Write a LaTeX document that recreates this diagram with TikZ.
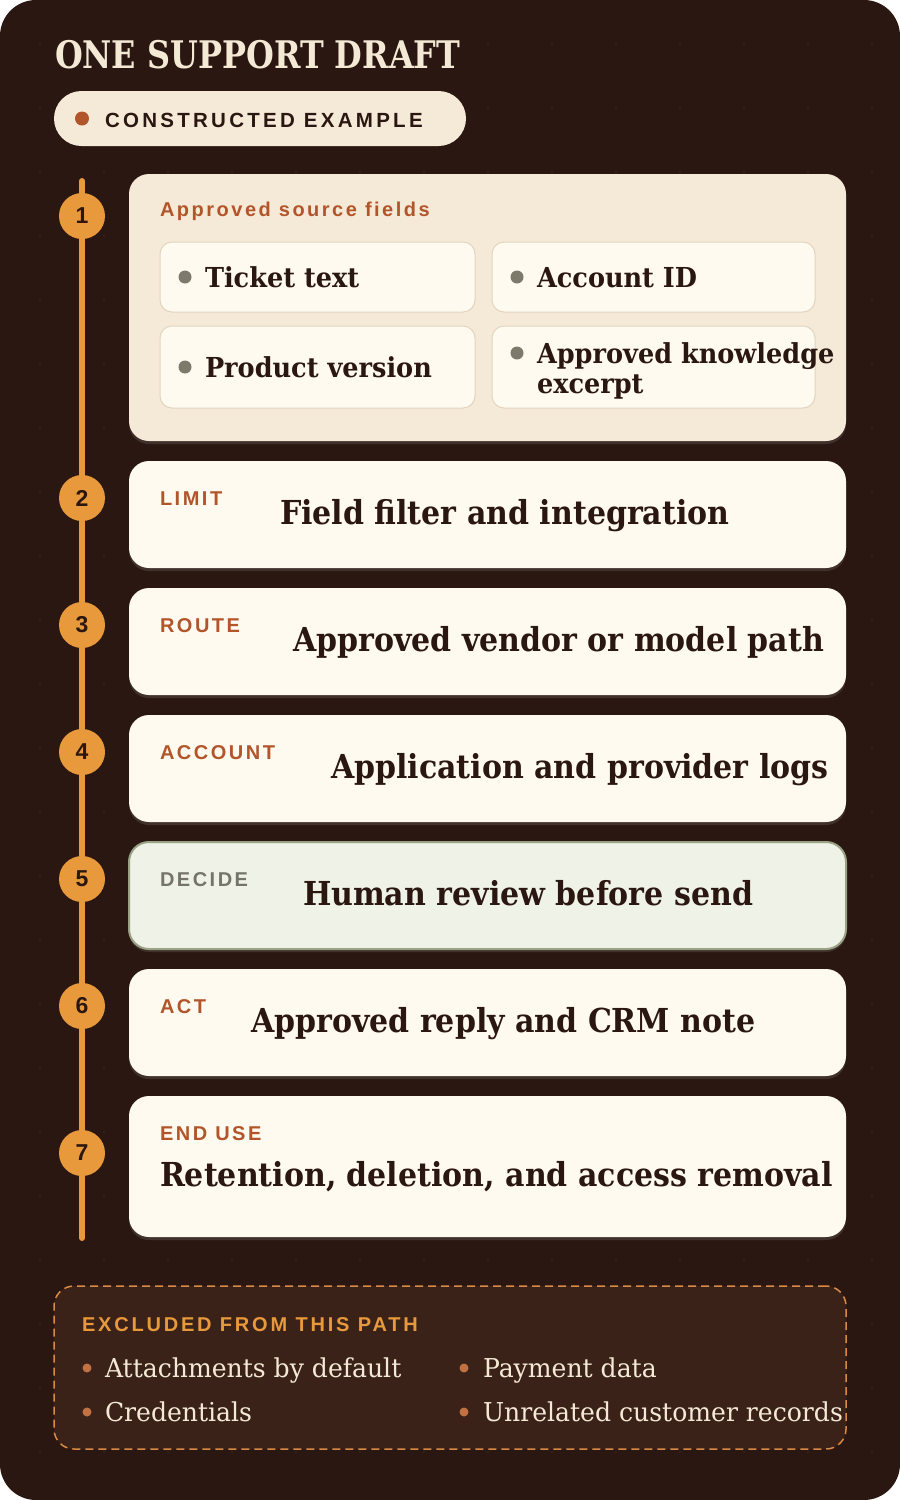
\documentclass[tikz,border=0pt]{standalone}
\usepackage{fontspec}
\setmainfont{DejaVu Serif}
\newfontfamily\titlefont[FakeStretch=0.84]{DejaVu Serif}
\newfontfamily\headfont[FakeStretch=0.91]{DejaVu Serif}
\newfontfamily\fieldfont[FakeStretch=0.93]{DejaVu Serif}
\newfontfamily\bodyfont[FakeStretch=0.965]{DejaVu Serif}
\newfontfamily\tagfont[LetterSpace=12.5]{Liberation Sans}
\newfontfamily\exclfont[LetterSpace=14]{Liberation Sans}
\newfontfamily\badgefont[LetterSpace=16]{Liberation Sans}
\newfontfamily\numfont{Liberation Sans}
\usetikzlibrary{shadows}

\definecolor{BgBrown}{HTML}{2B1711}
\definecolor{BgDot}{HTML}{38241C}
\definecolor{Cream}{HTML}{F4E9D5}
\definecolor{PillFill}{HTML}{F5EAD8}
\definecolor{Rust}{HTML}{B3552A}
\definecolor{Amber}{HTML}{E8993C}
\definecolor{CardFill}{HTML}{FEFAEF}
\definecolor{SrcFill}{HTML}{F5EAD7}
\definecolor{FieldLine}{HTML}{E2D4BF}
\definecolor{Ink}{HTML}{2B1711}
\definecolor{Pebble}{HTML}{7D7A6B}
\definecolor{SageFill}{HTML}{EEF2E7}
\definecolor{SageLine}{HTML}{9AA286}
\definecolor{SageInk}{HTML}{76736A}
\definecolor{ExclFill}{HTML}{3B2219}
\definecolor{ExclLine}{HTML}{D98A45}
\definecolor{ExclDot}{HTML}{C27142}

\begin{document}
\begin{tikzpicture}[x=1pt, y=-1pt]
	\tikzstyle{every node}=[inner sep=0pt, outer sep=0pt]
	\tikzstyle{card}=[anchor=north west, rounded corners=20pt, fill=CardFill, minimum width=717pt, drop shadow={shadow xshift=0pt, shadow yshift=-3pt, opacity=0.25}]
	\tikzstyle{tag}=[anchor=base west, text=Rust, font=\tagfont\bfseries\fontsize{20}{24}\selectfont]
	\tikzstyle{headline}=[anchor=base west, text=Ink, font=\headfont\bfseries\fontsize{33}{38}\selectfont]
	\tikzstyle{field}=[anchor=north west, rounded corners=12pt, draw=FieldLine, line width=1pt, fill=CardFill]
	\tikzstyle{fieldtext}=[anchor=base west, text=Ink, align=left, font=\fieldfont\bfseries\fontsize{27.5}{30}\selectfont]
	\tikzstyle{pebble}=[circle, fill=Pebble, minimum size=13pt]
	\tikzstyle{stepnum}=[circle, fill=Amber, minimum size=46pt, text=Ink, font=\numfont\bfseries\fontsize{23}{26}\selectfont]
	\tikzstyle{itemtext}=[anchor=base west, text=Cream, font=\bodyfont\fontsize{26}{30}\selectfont]
	\tikzstyle{itemdot}=[circle, fill=ExclDot, minimum size=9pt]

	// frame
	\useasboundingbox (0, 0) rectangle (900, 1500);
	\fill[white] (0, 0) rectangle (900, 1500);
	\fill[BgBrown, rounded corners=36pt] (0, 0) rectangle (900, 1500);
	\foreach \gx in {40, 104, ..., 872} \foreach \gy in {44, 108, ..., 1480} \fill[BgDot] (\gx, \gy) circle (1.2pt);

	// title
	\node[anchor=base west, text=Cream, font=\titlefont\bfseries\fontsize{38}{44}\selectfont](Title) at (55, 68) {ONE SUPPORT DRAFT};

	// badge
	\node[anchor=north west, fill=PillFill, rounded corners=27.5pt, minimum width=412pt, minimum height=55pt](Badge) at (54, 91) {};
	\node[circle, fill=Rust, minimum size=14pt](Badge_Dot) at (82, 118.5) {};
	\node[anchor=base west, text=Ink, font=\badgefont\bfseries\fontsize{20.5}{24}\selectfont](Badge_Text) at (105, 127) {CONSTRUCTED EXAMPLE};

	// timeline
	\coordinate (Line_Top) at (82, 181);
	\coordinate (Line_Bot) at (82, 1238);
	\draw[Amber, line width=6pt, line cap=round](Line_Top)--(Line_Bot);

	// source fields
	\node[card, fill=SrcFill, minimum height=267pt](Src_Card) at (129, 174) {};
	\node[tag](Src_Tag) at (160, 216) {Approved source fields};
	\node[field, minimum width=315pt, minimum height=70pt](Fld_Ticket) at (160, 242) {};
	\node[field, minimum width=323pt, minimum height=70pt](Fld_Account) at (492, 242) {};
	\node[field, minimum width=315pt, minimum height=82pt](Fld_Product) at (160, 326) {};
	\node[field, minimum width=323pt, minimum height=82pt](Fld_Knowledge) at (492, 326) {};
	\node[pebble](Dot_Ticket) at (185, 277) {};
	\node[fieldtext](Txt_Ticket) at (205, 287) {Ticket text};
	\node[pebble](Dot_Account) at (517, 277) {};
	\node[fieldtext](Txt_Account) at (537, 287) {Account ID};
	\node[pebble](Dot_Product) at (185, 367) {};
	\node[fieldtext](Txt_Product) at (205, 377) {Product version};
	\node[pebble](Dot_Knowledge) at (517, 353) {};
	\node[fieldtext, anchor=west](Txt_Knowledge) at (537, 371) {Approved knowledge\\excerpt};

	// limit
	\node[card, minimum height=107pt](Limit_Card) at (129, 461) {};
	\node[tag](Limit_Tag) at (160, 505) {LIMIT};
	\node[headline](Limit_Text) at (280, 524) {Field filter and integration};

	// route
	\node[card, minimum height=107pt](Route_Card) at (129, 588) {};
	\node[tag](Route_Tag) at (160, 632) {ROUTE};
	\node[headline](Route_Text) at (293, 651) {Approved vendor or model path};

	// account
	\node[card, minimum height=107pt](Account_Card) at (129, 715) {};
	\node[tag](Account_Tag) at (160, 759) {ACCOUNT};
	\node[headline](Account_Text) at (331, 778) {Application and provider logs};

	// decide
	\node[card, fill=SageFill, draw=SageLine, line width=2pt, minimum height=107pt](Decide_Card) at (129, 842) {};
	\node[tag, text=SageInk](Decide_Tag) at (160, 886) {DECIDE};
	\node[headline](Decide_Text) at (303, 905) {Human review before send};

	// act
	\node[card, minimum height=107pt](Act_Card) at (129, 969) {};
	\node[tag](Act_Tag) at (160, 1013) {ACT};
	\node[headline](Act_Text) at (251, 1032) {Approved reply and CRM note};

	// end use
	\node[card, minimum height=141pt](End_Card) at (129, 1096) {};
	\node[tag](End_Tag) at (160, 1140) {END USE};
	\node[headline](End_Text) at (160, 1186) {Retention, deletion, and access removal};

	// step numbers
	\node[stepnum](Step_1) at (82, 216) {1};
	\node[stepnum](Step_2) at (82, 498) {2};
	\node[stepnum](Step_3) at (82, 625) {3};
	\node[stepnum](Step_4) at (82, 752) {4};
	\node[stepnum](Step_5) at (82, 879) {5};
	\node[stepnum](Step_6) at (82, 1006) {6};
	\node[stepnum](Step_7) at (82, 1153) {7};

	// excluded
	\node[anchor=north west, fill=ExclFill, draw=ExclLine, dash pattern=on 8pt off 5pt, line width=1.5pt, rounded corners=20pt, minimum width=792pt, minimum height=163pt](Excl_Box) at (54, 1286) {};
	\node[tag, text=Amber, font=\exclfont\bfseries\fontsize{20}{24}\selectfont](Excl_Tag) at (82, 1331) {EXCLUDED FROM THIS PATH};
	\node[itemdot](Dot_Attach) at (87, 1368) {};
	\node[itemtext](Txt_Attach) at (105, 1377) {Attachments by default};
	\node[itemdot](Dot_Cred) at (87, 1412) {};
	\node[itemtext](Txt_Cred) at (105, 1421) {Credentials};
	\node[itemdot](Dot_Pay) at (464, 1368) {};
	\node[itemtext](Txt_Pay) at (483, 1377) {Payment data};
	\node[itemdot](Dot_Unrel) at (464, 1412) {};
	\node[itemtext](Txt_Unrel) at (483, 1421) {Unrelated customer records};
\end{tikzpicture}
\end{document}
